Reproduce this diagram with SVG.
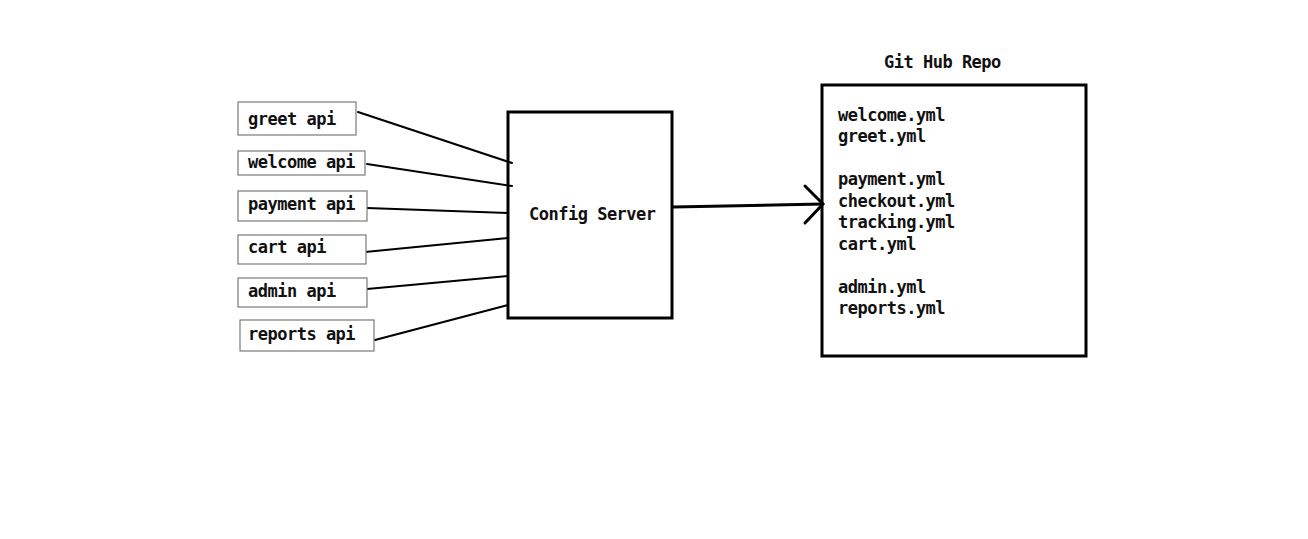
<svg xmlns="http://www.w3.org/2000/svg" width="1308" height="539" viewBox="0 0 1308 539">
<style>
text { font-family: "DejaVu Sans Mono", "Liberation Mono", monospace; font-weight: bold; font-size: 17px; letter-spacing: -0.5px; fill: #111; }
.api { fill: #fff; stroke: #7a7a7a; stroke-width: 1.2; }
.big { fill: none; stroke: #000; stroke-width: 3; }
.conn { stroke: #000; stroke-width: 2; fill: none; stroke-linecap: round; }
.arrow { stroke: #000; stroke-width: 3; fill: none; stroke-linecap: round; stroke-linejoin: round; }
</style>
<rect width="1308" height="539" fill="#fff"/>
<g id="connectors">
<line class="conn" x1="358" y1="112" x2="512" y2="163"/>
<line class="conn" x1="367" y1="164" x2="512" y2="186"/>
<line class="conn" x1="367" y1="208" x2="508" y2="213"/>
<line class="conn" x1="365" y1="252" x2="508" y2="238"/>
<line class="conn" x1="367" y1="289" x2="508" y2="276"/>
<line class="conn" x1="375" y1="340" x2="508" y2="305"/>
<line class="arrow" x1="673" y1="207" x2="823" y2="204"/>
<polyline class="arrow" points="805,186 823,204 805,223"/>
</g>
<g id="greet-api"><rect class="api" x="238" y="102" width="118" height="33"/><text x="248" y="125">greet api</text></g>
<g id="welcome-api"><rect class="api" x="238" y="151" width="127" height="24"/><text x="248" y="168">welcome api</text></g>
<g id="payment-api"><rect class="api" x="238" y="191" width="129" height="30"/><text x="248" y="210">payment api</text></g>
<g id="cart-api"><rect class="api" x="238" y="235" width="128" height="29"/><text x="248" y="253">cart api</text></g>
<g id="admin-api"><rect class="api" x="238" y="278" width="129" height="29"/><text x="248" y="297">admin api</text></g>
<g id="reports-api"><rect class="api" x="240" y="320" width="134" height="31"/><text x="248" y="340">reports api</text></g>
<g id="config-server"><rect class="big" x="508" y="112" width="164" height="206"/><text x="529" y="220">Config Server</text></g>
<g id="github-repo">
<text x="884" y="68">Git Hub Repo</text>
<rect class="big" x="822" y="85" width="264" height="271"/>
<text x="838" y="121">welcome.yml</text>
<text x="838" y="142">greet.yml</text>
<text x="838" y="185">payment.yml</text>
<text x="838" y="207">checkout.yml</text>
<text x="838" y="228">tracking.yml</text>
<text x="838" y="250">cart.yml</text>
<text x="838" y="293">admin.yml</text>
<text x="838" y="314">reports.yml</text>
</g>
</svg>
